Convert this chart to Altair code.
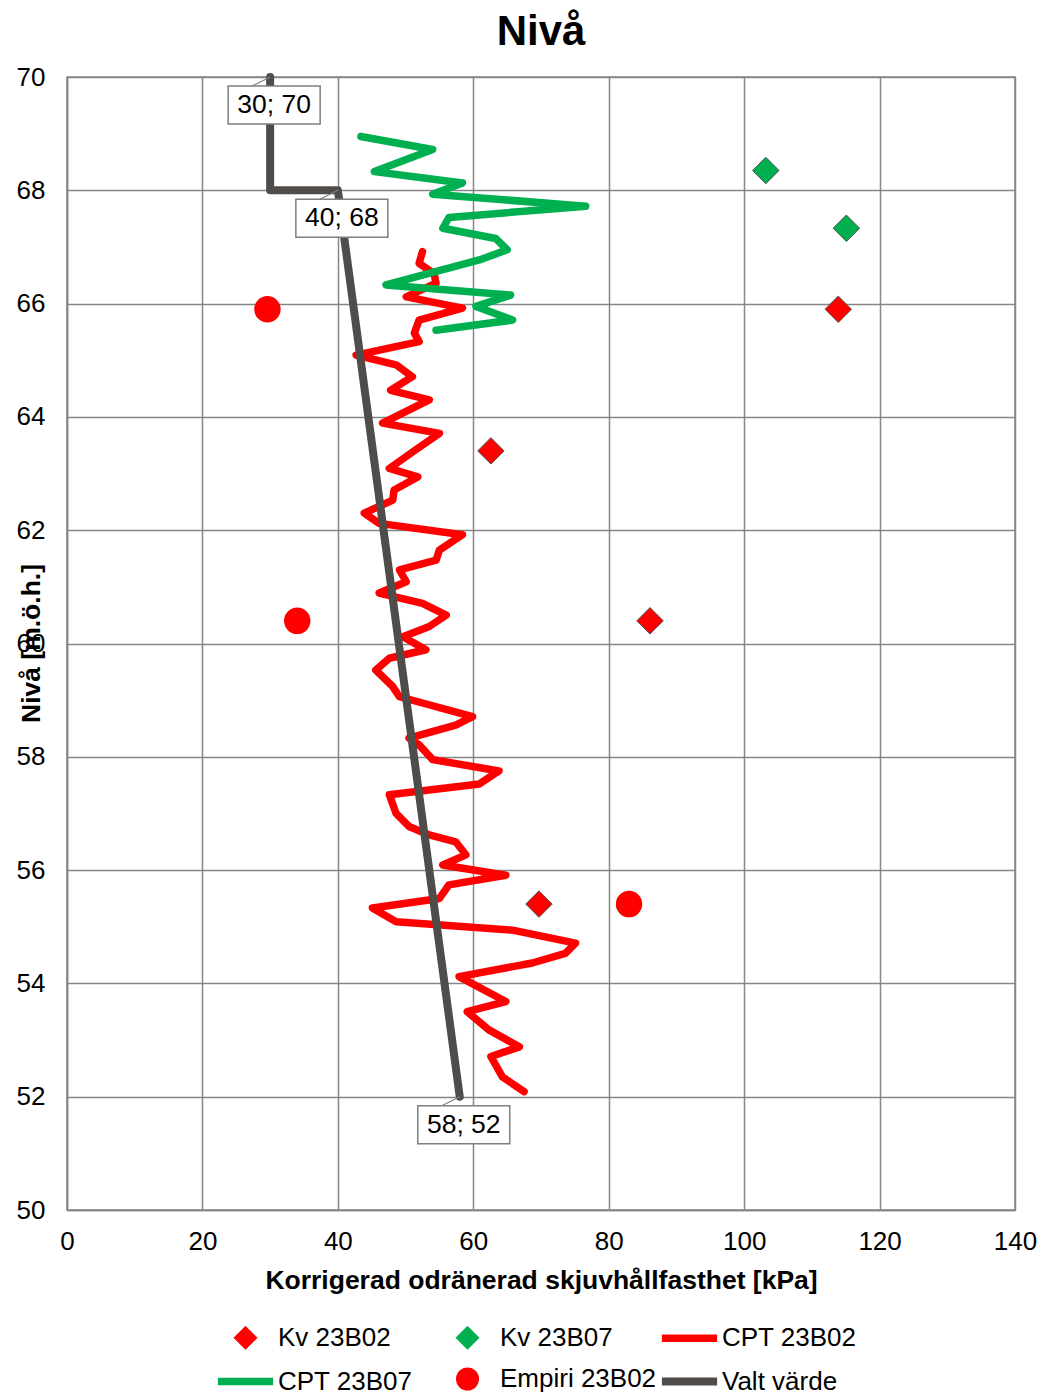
import altair as alt
import pandas as pd

# ---- data ----
cpt_b02_x = [52.5, 52.0, 54.2, 54.5, 50.1, 58.4, 52.0, 51.3, 52.0, 42.7, 48.6, 51.0, 47.8, 53.5,
             46.6, 55.0, 51.5, 47.6, 51.8, 48.3, 48.1, 43.9, 46.1, 58.4, 55.0, 54.5, 49.1, 50.1,
             46.1, 52.5, 56.0, 53.5, 49.6, 53.0, 47.6, 45.6, 48.1, 49.1, 59.9, 57.4, 50.5, 52.0,
             54.0, 63.8, 60.9, 47.6, 48.6, 50.5, 53.5, 57.4, 58.9, 55.5, 64.8, 56.4, 55.0, 45.1,
             48.6, 65.8, 75.1, 73.6, 68.7, 57.9, 64.8, 59.1, 62.3, 66.8, 62.6, 64.3, 67.5]
cpt_b02_y = [66.92, 66.71, 66.53, 66.36, 66.12, 65.92, 65.71, 65.48, 65.33, 65.09, 64.92, 64.71,
             64.47, 64.30, 63.89, 63.71, 63.42, 63.09, 62.94, 62.71, 62.53, 62.30, 62.12, 61.92,
             61.65, 61.47, 61.30, 61.09, 60.89, 60.71, 60.50, 60.30, 60.12, 59.89, 59.74, 59.53,
             59.24, 59.06, 58.71, 58.56, 58.33, 58.21, 57.95, 57.75, 57.52, 57.33, 57.00, 56.77,
             56.62, 56.50, 56.27, 56.09, 55.91, 55.74, 55.50, 55.33, 55.09, 54.94, 54.71, 54.53,
             54.36, 54.12, 53.68, 53.50, 53.18, 52.88, 52.71, 52.35, 52.09]

cpt_b07_x = [43.4, 54.0, 45.4, 58.4, 54.0, 76.6, 56.4, 55.5, 63.3, 65.0, 60.9, 47.1, 65.5, 60.4,
             65.8, 54.5]
cpt_b07_y = [68.95, 68.72, 68.33, 68.13, 67.93, 67.72, 67.52, 67.33, 67.15, 66.95, 66.77, 66.33,
             66.15, 65.95, 65.71, 65.53]

valt_x = [30, 30, 40, 58]
valt_y = [70, 68, 68, 52]

kv_b02_x = [113.9, 62.6, 86.1, 69.7]
kv_b02_y = [65.9, 63.4, 60.4, 55.4]
kv_b07_x = [103.2, 115.1]
kv_b07_y = [68.35, 67.33]
emp_x = [29.6, 34.0, 83.0]
emp_y = [65.9, 60.4, 55.4]

label_x = [30, 40, 58]
label_y = [70, 68, 52]

x_ticks = [0, 20, 40, 60, 80, 100, 120, 140]
y_ticks = [50, 52, 54, 56, 58, 60, 62, 64, 66, 68, 70]

series = ["Kv 23B02", "Kv 23B07", "CPT 23B02", "CPT 23B07", "Empiri 23B02", "Valt värde"]
colors = ["#ff0000", "#00b050", "#ff0000", "#00b050", "#ff0000", "#504c49"]
LINE = "M-2.4,0H2.4"
shapes = ["diamond", "diamond", LINE, LINE, "circle", LINE]
widths = [1, 1, 7.5, 7.5, 0, 8]

FONT = "Liberation Sans"


def frame(xs, ys, name):
    return pd.DataFrame({"x": xs, "y": ys, "serie": name, "i": list(range(len(xs)))})


df_b02 = frame(cpt_b02_x, cpt_b02_y, "CPT 23B02")
df_b07 = frame(cpt_b07_x, cpt_b07_y, "CPT 23B07")
df_valt = frame(valt_x, valt_y, "Valt värde")
df_kv = pd.concat([frame(kv_b02_x, kv_b02_y, "Kv 23B02"), frame(kv_b07_x, kv_b07_y, "Kv 23B07")])
df_emp = frame(emp_x, emp_y, "Empiri 23B02")
df_lab = pd.DataFrame({"x": label_x, "y": label_y,
                       "txt": [f"{a}; {b}" for a, b in zip(label_x, label_y)]})

leg = alt.Legend(title=None, orient="none", legendX=163, legendY=1245, columns=3,
                 direction="horizontal", gridAlign="all", columnPadding=-12, rowPadding=11,
                 symbolSize=529, labelFontSize=26, labelFont=FONT, labelColor="#000000",
                 labelOffset=17, labelLimit=0, padding=0)

X = alt.X("x:Q", scale=alt.Scale(domain=[0, 140], nice=False),
          axis=alt.Axis(values=x_ticks, title="Korrigerad odränerad skjuvhållfasthet [kPa]",
                        labelPadding=18, titlePadding=13, format="d", labelFlush=False,
                        labelOverlap=False))
Y = alt.Y("y:Q", scale=alt.Scale(domain=[50, 70], nice=False, zero=False),
          axis=alt.Axis(values=y_ticks, title="Nivå [m.ö.h.]", labelPadding=22, format="d",
                        labelFlush=False, labelOverlap=False,
                        titleX=-28, titleY=566, titleBaseline="alphabetic"))
C = alt.Color("serie:N", scale=alt.Scale(domain=series, range=colors), legend=leg)
S = alt.Shape("serie:N", scale=alt.Scale(domain=series, range=shapes), legend=leg)
W = alt.StrokeWidth("serie:N", scale=alt.Scale(type="ordinal", domain=series, range=widths),
                    legend=leg)


def line_layer(df):
    return alt.Chart(df).mark_line(strokeCap="round", strokeJoin="round").encode(
        x=X, y=Y, color=C, strokeWidth=W, order="i:Q")


l_b02 = line_layer(df_b02)
l_b07 = line_layer(df_b07)
l_valt = line_layer(df_valt)

p_kv = alt.Chart(df_kv).mark_point(filled=True, opacity=1, size=700, stroke="#505050").encode(
    x=X, y=Y, color=C, shape=S, strokeWidth=W)
p_emp = alt.Chart(df_emp).mark_point(filled=True, opacity=1, size=700).encode(
    x=X, y=Y, color=C, shape=S, strokeWidth=W)

tail = alt.Chart(df_lab).mark_rule(color="#7f7f7f", strokeWidth=1.2, x2Offset=-20,
                                   y2Offset=10).encode(x="x:Q", y="y:Q", x2="x:Q", y2="y:Q")
box = alt.Chart(df_lab).mark_rect(width=92, height=38, xOffset=4, yOffset=28, fill="white",
                                  stroke="#7f7f7f", strokeWidth=1.5).encode(x="x:Q", y="y:Q")
txt = alt.Chart(df_lab).mark_text(dx=4, dy=28, fontSize=26.5, font=FONT, color="#000000",
                                  baseline="middle", align="center").encode(
    x="x:Q", y="y:Q", text="txt:N")

chart = alt.layer(l_b02, l_b07, l_valt, p_kv, p_emp, tail, box, txt).properties(
    width=948, height=1133,
    background="white",
    title=alt.TitleParams("Nivå", fontSize=42, font=FONT, fontWeight="bold", offset=10,
                          anchor="middle", color="#000000"),
    autosize=alt.AutoSizeParams(type="none"),
    padding={"left": 59, "top": 69, "right": 22, "bottom": 185},
).configure_view(stroke="#868686", strokeWidth=1.5).configure_axis(
    grid=True, gridColor="#868686", gridWidth=1.5, domainColor="#868686", domainWidth=1.5,
    ticks=False, tickSize=0, labelFont=FONT, labelFontSize=26, labelColor="#000000",
    titleFont=FONT, titleFontSize=26.5, titleFontWeight="bold", titleColor="#000000",
)

chart.save("out.html", embed_options={"renderer": "svg", "actions": False})
